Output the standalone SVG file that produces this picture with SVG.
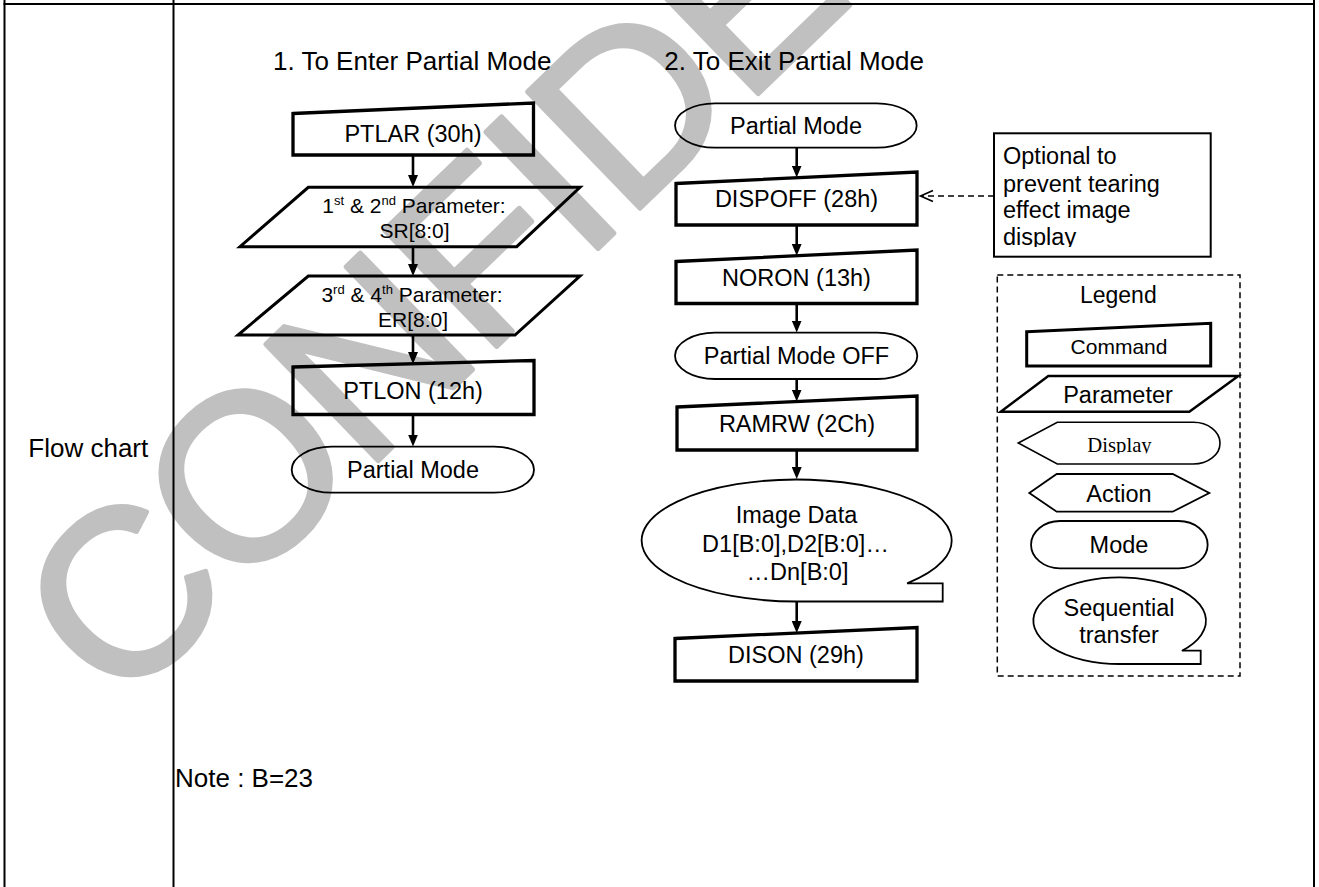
<svg xmlns="http://www.w3.org/2000/svg" width="1319" height="887" viewBox="0 0 1319 887">
<style>
text{font-family:"Liberation Sans",Arial,sans-serif;fill:#000}
.t26{font-size:26px}
.t23{font-size:23.5px;text-anchor:middle}
.t21{font-size:21px;text-anchor:middle}
.cmd{fill:none;stroke:#000;stroke-width:3.3}
.par{fill:none;stroke:#000;stroke-width:3}
.thin{fill:none;stroke:#000;stroke-width:1.8}
.tbl{stroke:#000;stroke-width:2}
.arr{stroke:#000;stroke-width:2.6;fill:none}
.dash{stroke:#000;stroke-width:1.5;fill:none;stroke-dasharray:6 4}
.wm{font-size:235px;fill:#c0c0c0;stroke:#c0c0c0;stroke-width:5;stroke-linejoin:round}
</style>
<defs>
<marker id="ah" viewBox="0 0 12 10" refX="2" refY="5" markerWidth="12" markerHeight="10" markerUnits="userSpaceOnUse" orient="auto">
<path d="M0,0 L12,5 L0,10 Z" fill="#000"/>
</marker>
<clipPath id="clipOpt"><rect x="994" y="133" width="217" height="114"/></clipPath>
<clipPath id="clipDisp"><rect x="1018" y="420" width="205" height="33.5"/></clipPath>
</defs>
<rect width="1319" height="887" fill="#fff"/>
<g id="watermark">
<text class="wm" transform="translate(118,712) rotate(-44)" letter-spacing="-5">CONFIDENTIAL</text>
</g>
<g id="table">
<line class="tbl" x1="4.5" y1="0" x2="4.5" y2="887"/>
<line class="tbl" x1="173.5" y1="0" x2="173.5" y2="887"/>
<line class="tbl" x1="1314" y1="0" x2="1314" y2="887"/>
<line class="tbl" x1="3.5" y1="4" x2="1315" y2="4"/>
<text class="t26" x="28.3" y="456.7">Flow chart</text>
<text class="t26" x="175" y="786.7">Note : B=23</text>
<text class="t26" x="273" y="70">1. To Enter Partial Mode</text>
<text class="t26" x="664.3" y="70">2. To Exit Partial Mode</text>
</g>
<g id="connectors">
<line class="arr" x1="413" y1="155" x2="413" y2="177" marker-end="url(#ah)"/>
<line class="arr" x1="413" y1="247" x2="413" y2="266" marker-end="url(#ah)"/>
<line class="arr" x1="413" y1="335.5" x2="413" y2="354" marker-end="url(#ah)"/>
<line class="arr" x1="413" y1="414.5" x2="413" y2="436.5" marker-end="url(#ah)"/>
<line class="arr" x1="796.7" y1="148" x2="796.7" y2="167.5" marker-end="url(#ah)"/>
<line class="arr" x1="796.7" y1="225" x2="796.7" y2="245.7" marker-end="url(#ah)"/>
<line class="arr" x1="796.7" y1="303.5" x2="796.7" y2="322.5" marker-end="url(#ah)"/>
<line class="arr" x1="796.7" y1="379" x2="796.7" y2="391.5" marker-end="url(#ah)"/>
<line class="arr" x1="796.7" y1="450" x2="796.7" y2="469" marker-end="url(#ah)"/>
<line class="arr" x1="796.7" y1="602" x2="796.7" y2="623" marker-end="url(#ah)"/>
<line class="dash" x1="994" y1="196" x2="922" y2="196"/>
<polyline points="933,190.5 920.5,196 933,201.5" fill="none" stroke="#000" stroke-width="1.6"/>
</g>
<g id="ptlar">
<path class="cmd" d="M293,113.5 L533.5,103 L533.5,155 L293,155 Z"/>
<text class="t23" x="413" y="141.7">PTLAR (30h)</text>
</g>
<g id="param1">
<path class="par" d="M308.3,187.3 L580,187.3 L516.7,246.7 L240,246.7 Z"/>
<text class="t21" x="414" y="213.3">1<tspan font-size="13" dy="-8">st</tspan><tspan dy="8"> &amp; 2</tspan><tspan font-size="13" dy="-8">nd</tspan><tspan dy="8"> Parameter:</tspan></text>
<text class="t21" x="414.5" y="238.3">SR[8:0]</text>
</g>
<g id="param2">
<path class="par" d="M308.3,276 L580,276 L515,335 L238,335 Z"/>
<text class="t21" x="412" y="301.7">3<tspan font-size="13" dy="-8">rd</tspan><tspan dy="8"> &amp; 4</tspan><tspan font-size="13" dy="-8">th</tspan><tspan dy="8"> Parameter:</tspan></text>
<text class="t21" x="413" y="326.7">ER[8:0]</text>
</g>
<g id="ptlon">
<path class="cmd" d="M293,367 L534,360.5 L534,414.5 L293,414.5 Z"/>
<text class="t23" x="413" y="399.3">PTLON (12h)</text>
</g>
<g id="partial-mode-enter">
<path class="thin" d="M331.7,446.7 H494 A40,23 0 0 1 494,492.7 H331.7 A40,23 0 0 1 331.7,446.7 Z"/>
<text class="t23" x="413" y="478.3">Partial Mode</text>
</g>
<g id="partial-mode-exit">
<path class="thin" d="M715,103.3 H876.7 A40,22.2 0 0 1 876.7,147.7 H715 A40,22.2 0 0 1 715,103.3 Z"/>
<text class="t23" x="796" y="134">Partial Mode</text>
</g>
<g id="dispoff">
<path class="cmd" d="M676,183.5 L917,172 L917,225 L676,225 Z"/>
<text class="t23" x="796.5" y="207.3">DISPOFF (28h)</text>
</g>
<g id="noron">
<path class="cmd" d="M676,261.5 L917,250 L917,303.5 L676,303.5 Z"/>
<text class="t23" x="796.5" y="286">NORON (13h)</text>
</g>
<g id="partial-mode-off">
<path class="thin" d="M715,332.7 H877.3 A40,23.15 0 0 1 877.3,379 H715 A40,23.15 0 0 1 715,332.7 Z"/>
<text class="t23" x="796.5" y="364">Partial Mode OFF</text>
</g>
<g id="ramrw">
<path class="cmd" d="M677,407 L917,396 L917,450 L677,450 Z"/>
<text class="t23" x="797" y="431.7">RAMRW (2Ch)</text>
</g>
<g id="image-data">
<path class="thin" d="M907.1,583.3 A155,61 0 1 0 796.7,601.5 L942.7,601.5 L942.7,583.3 Z"/>
<text class="t23" x="796.5" y="523.3">Image Data</text>
<text class="t23" x="795.5" y="551.7">D1[B:0],D2[B:0]…</text>
<text class="t23" x="797.5" y="580">…Dn[B:0]</text>
</g>
<g id="dison">
<path class="cmd" d="M675,638.5 L917,627.5 L917,681 L675,681 Z"/>
<text class="t23" x="796" y="663.3">DISON (29h)</text>
</g>
<g id="optional-note">
<rect x="994" y="133.3" width="216.7" height="123.4" fill="none" stroke="#000" stroke-width="2"/>
<g clip-path="url(#clipOpt)">
<text x="1003" y="164" font-size="23.5">Optional to</text>
<text x="1003" y="191.7" font-size="23.5">prevent tearing</text>
<text x="1003" y="218.3" font-size="23.5">effect image</text>
<text x="1003" y="245" font-size="23.5">display</text>
</g>
</g>
<g id="legend">
<rect x="997.3" y="275" width="242.7" height="401" class="dash"/>
<text x="1118.3" y="302.7" font-size="23" text-anchor="middle">Legend</text>
<g id="legend-command">
<path d="M1026.7,331.7 L1210.7,323.3 L1210.7,366 L1026.7,366 Z" fill="none" stroke="#000" stroke-width="3"/>
<text class="t21" x="1119" y="354">Command</text>
</g>
<g id="legend-parameter">
<path d="M1048.3,376 L1238.3,376 L1189.3,411.7 L1000.7,411.7 Z" fill="none" stroke="#000" stroke-width="2.5"/>
<text class="t23" x="1118" y="402.7">Parameter</text>
</g>
<g id="legend-display">
<path d="M1018.3,443 L1057.3,422.3 L1193.3,422.3 A26.7,20.85 0 0 1 1193.3,464 L1057.3,464 Z" fill="none" stroke="#000" stroke-width="1.6"/>
<text x="1119.5" y="451.7" font-size="20.7" text-anchor="middle" clip-path="url(#clipDisp)" style="font-family:'Liberation Serif','Times New Roman',serif">Display</text>
</g>
<g id="legend-action">
<polygon points="1029.3,493 1056.7,474 1172.7,474 1209.3,493 1172.7,511.7 1056.7,511.7" fill="none" stroke="#000" stroke-width="1.8"/>
<text class="t23" x="1119" y="501.7">Action</text>
</g>
<g id="legend-mode">
<path class="thin" d="M1060,521 H1178.7 A29,23.65 0 0 1 1178.7,568.3 H1060 A29,23.65 0 0 1 1060,521 Z"/>
<text class="t23" x="1119" y="553.3">Mode</text>
</g>
<g id="legend-sequential">
<path class="thin" d="M1181.9,650.7 A86.3,43.3 0 1 0 1119.7,664 L1200.7,664 L1200.7,650.7 Z"/>
<text class="t23" x="1119" y="616">Sequential</text>
<text class="t23" x="1119" y="642.7">transfer</text>
</g>
</g>
</svg>
